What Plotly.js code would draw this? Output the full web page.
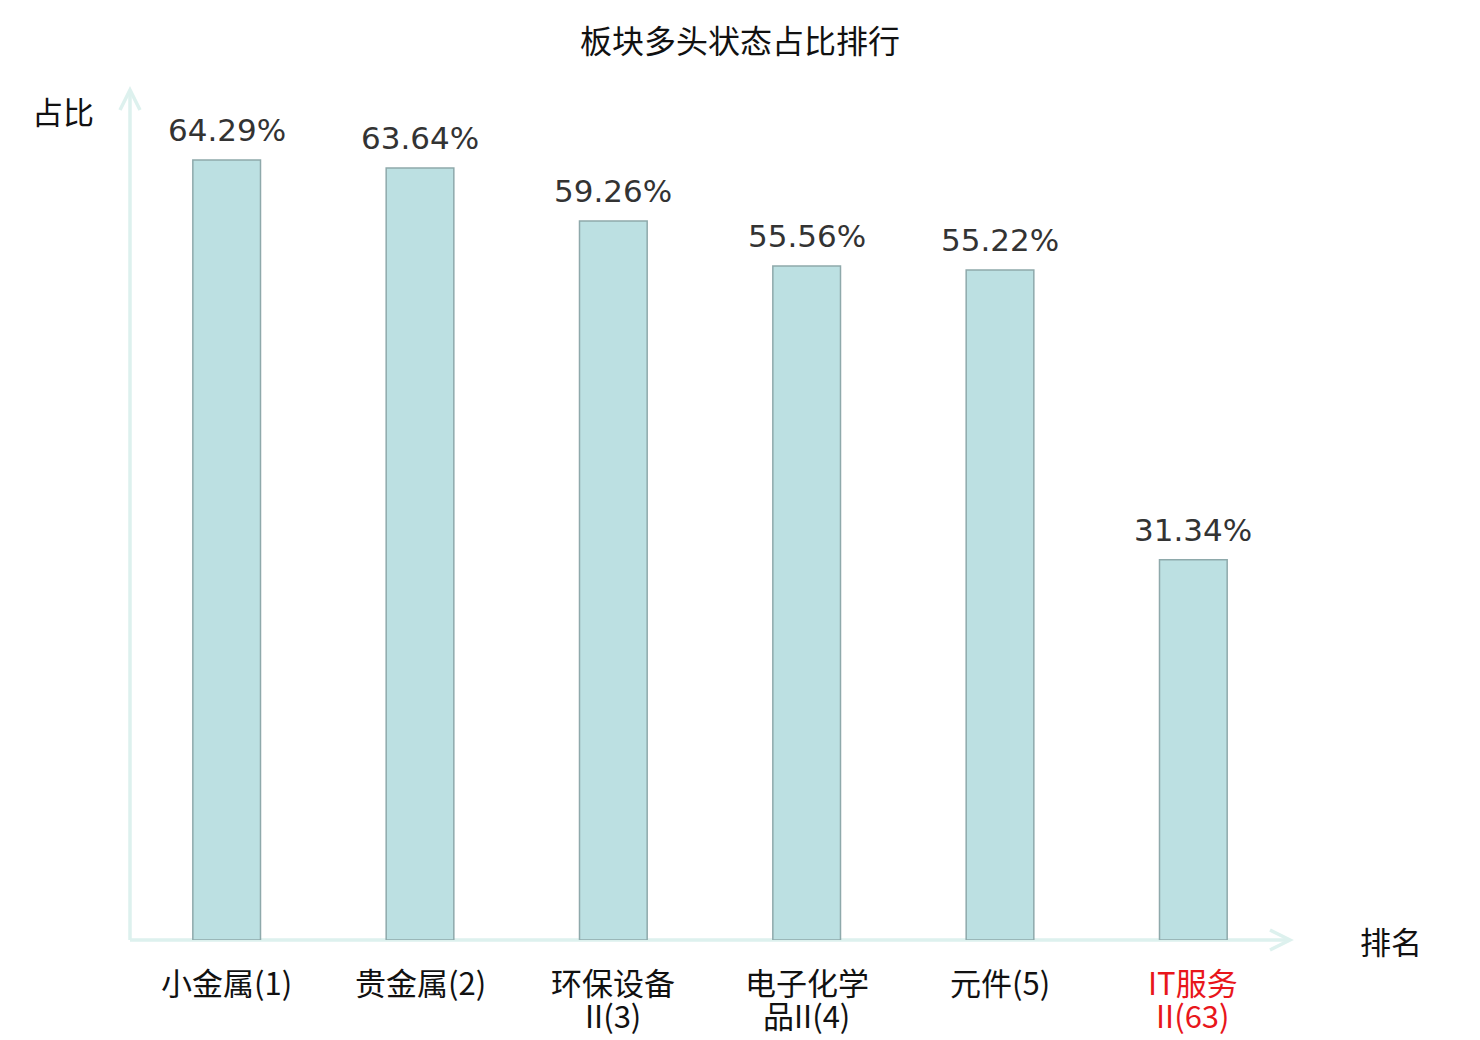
<!DOCTYPE html>
<html>
<head>
<meta charset="utf-8">
<script src="https://cdn.plot.ly/plotly-3.0.1.min.js"></script>
<style>
  html, body { margin: 0; padding: 0; background: #fff; }
  #chart { width: 1480px; height: 1040px; }
</style>
</head>
<body>
<div id="chart"></div>
<script>
const sectors = ['小金属', '贵金属', '环保设备II', '电子化学品II', '元件', 'IT服务II'];
const ranks = [1, 2, 3, 4, 5, 63];
const shares = [64.29, 63.64, 59.26, 55.56, 55.22, 31.34];
// tick labels as drawn, split over two lines where the source wraps them
const labelTop = ['小金属(1)', '贵金属(2)', '环保设备', '电子化学', '元件(5)', 'IT服务'];
const labelBottom = ['', '', 'II(3)', '品II(4)', '', 'II(63)'];
const labelColors = ['#111', '#111', '#111', '#111', '#111', '#e8161b'];

const CJK = '"Noto Sans CJK SC", "Noto Sans", sans-serif';
const axisColor = '#ddf1ee';
const W = 1480 - 130 - 190, H = 1040 - 90 - 100;

const bars = {
  type: 'bar', x: sectors, y: shares, width: 0.35,
  marker: { color: '#bce0e2', line: { color: '#8ea9ab', width: 1.5 } },
  hoverinfo: 'skip'
};

const annotations = [];
sectors.forEach((s, i) => {
  annotations.push({ x: s, y: shares[i], xref: 'x', yref: 'y', yanchor: 'bottom', yshift: 10,
    text: shares[i].toFixed(2) + '%', showarrow: false,
    font: { family: '"DejaVu Sans", sans-serif', size: 31, color: '#333' } });
  annotations.push({ x: s, y: 0, xref: 'x', yref: 'paper', yanchor: 'middle', yshift: -41,
    text: labelTop[i], showarrow: false, font: { family: CJK, size: 31, color: labelColors[i] } });
  if (labelBottom[i]) {
    annotations.push({ x: s, y: 0, xref: 'x', yref: 'paper', yanchor: 'middle', yshift: -74,
      text: labelBottom[i], showarrow: false, font: { family: CJK, size: 31, color: labelColors[i] } });
  }
});
annotations.push({ x: (63 - 130) / W, y: 1 - 20 / H, xref: 'paper', yref: 'paper',
  xanchor: 'center', yanchor: 'middle', text: '占比', showarrow: false,
  font: { family: CJK, size: 31, color: '#111' } });
annotations.push({ x: (1391 - 130) / W, y: 0, xref: 'paper', yref: 'paper',
  xanchor: 'center', yanchor: 'middle', text: '排名', showarrow: false,
  font: { family: CJK, size: 31, color: '#111' } });

const ax = 10, ay = 20;
const shapes = [
  { type: 'line', xref: 'paper', yref: 'paper', x0: 0, x1: 0, y0: 0, y1: 1, layer: 'below',
    line: { color: axisColor, width: 3.5 } },
  { type: 'line', xref: 'paper', yref: 'paper', x0: 0, x1: 1, y0: 0, y1: 0, layer: 'below',
    line: { color: axisColor, width: 3.5 } },
  { type: 'path', xref: 'paper', yref: 'paper', layer: 'below',
    path: `M ${-ax / W},${1 - ay / H} L 0,1 L ${ax / W},${1 - ay / H}`,
    line: { color: axisColor, width: 3.5 } },
  { type: 'path', xref: 'paper', yref: 'paper', layer: 'below',
    path: `M ${1 - ay / W},${ax / H} L 1,0 L ${1 - ay / W},${-ax / H}`,
    line: { color: axisColor, width: 3.5 } }
];

const layout = {
  width: 1480, height: 1040,
  margin: { l: 130, r: 190, t: 90, b: 100 },
  paper_bgcolor: '#fff', plot_bgcolor: '#fff',
  title: { text: '板块多头状态占比排行', x: 0.5, xref: 'container', xanchor: 'center',
    y: 1 - 42 / 1040, yref: 'container', yanchor: 'middle',
    font: { family: CJK, size: 32, color: '#111' } },
  xaxis: { showticklabels: false, showgrid: false, zeroline: false, showline: false, ticks: '',
    range: [-0.5, 5.5] },
  yaxis: { showticklabels: false, showgrid: false, zeroline: false, showline: false, ticks: '',
    range: [0, 70.06] },
  showlegend: false,
  shapes: shapes,
  annotations: annotations
};

Plotly.newPlot('chart', [bars], layout, { displayModeBar: false, staticPlot: true });
</script>
</body>
</html>
